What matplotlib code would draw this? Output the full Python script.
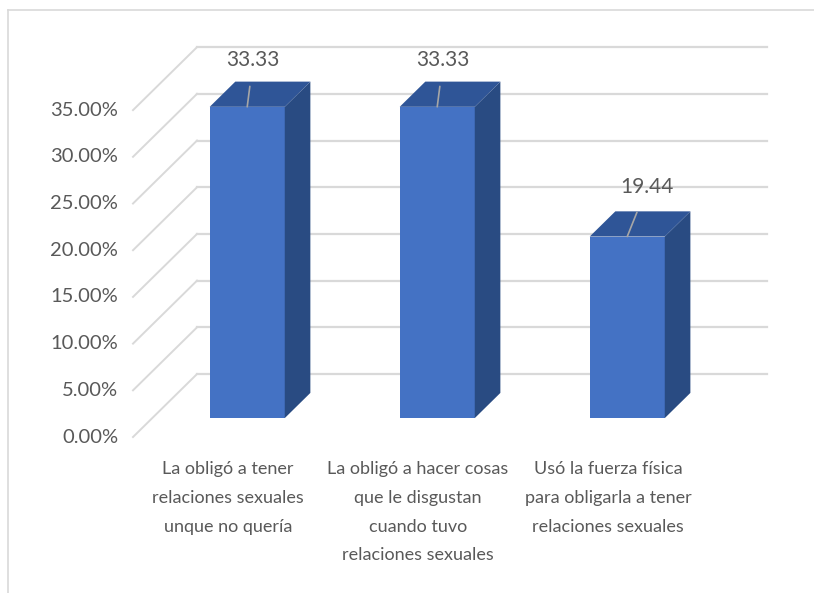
import matplotlib

matplotlib.use("Agg")
import matplotlib.pyplot as plt  # noqa: E402
from matplotlib.lines import Line2D  # noqa: E402
from matplotlib.patches import Polygon  # noqa: E402

plt.rcParams["font.family"] = ["Lato", "DejaVu Sans"]

categories = [
    "La obligó a tener\nrelaciones sexuales\nunque no quería",
    "La obligó a hacer cosas\nque le disgustan\ncuando tuvo\nrelaciones sexuales",
    "Usó la fuerza física\npara obligarla a tener\nrelaciones sexuales",
]
values = [33.33, 33.33, 19.44]
value_labels = ["33.33", "33.33", "19.44"]
y_ticks = [0, 5, 10, 15, 20, 25, 30, 35]
tick_labels = [f"{t:.2f}%" for t in y_ticks]

# fake-3D geometry (category units on x, percent units on y)
DEPTH_X = 0.337
DEPTH_Y = 6.745
BAR_W = 0.395
F_FRONT, F_BACK = 0.3, 0.7

FRONT = "#4472C4"
TOP = "#2F5597"
SIDE = "#294B82"
GRID = "#D9D9D9"
TEXT = "#595959"

fig = plt.figure(figsize=(8.14, 5.93), dpi=100)
ax = fig.add_axes([0, 0, 1, 1])
ax.set_xlim(-1.2, 3.084)
ax.set_ylim(-16.70, 46.79)
ax.axis("off")

# back wall gridlines with the diagonal run to the front edge
x0, x1 = -0.5, len(categories) - 0.5
for t, lab in zip(y_ticks, tick_labels):
    ax.plot([x0, x0 + DEPTH_X], [t, t + DEPTH_Y], color=GRID, lw=1.4, zorder=1)
    ax.plot([x0 + DEPTH_X, x1 + DEPTH_X], [t + DEPTH_Y] * 2, color=GRID, lw=1.6, zorder=1)
    ax.annotate(lab, xy=(x0, t), xytext=(-15, 0), textcoords="offset pixels",
                ha="right", va="center", fontsize=14.5, color=TEXT)

# bars
label_offsets = [(6, 47), (6, 47), (20, 50)]
for i, v in enumerate(values):
    fx = i + F_FRONT * DEPTH_X - BAR_W / 2
    fy = F_FRONT * DEPTH_Y
    ddx = (F_BACK - F_FRONT) * DEPTH_X
    ddy = (F_BACK - F_FRONT) * DEPTH_Y
    front = Polygon([(fx, fy), (fx + BAR_W, fy), (fx + BAR_W, fy + v), (fx, fy + v)],
                    closed=True, facecolor=FRONT, edgecolor="none", zorder=3)
    side = Polygon([(fx + BAR_W, fy), (fx + BAR_W + ddx, fy + ddy),
                    (fx + BAR_W + ddx, fy + ddy + v), (fx + BAR_W, fy + v)],
                   closed=True, facecolor=SIDE, edgecolor="none", zorder=3)
    top = Polygon([(fx, fy + v), (fx + BAR_W, fy + v),
                   (fx + BAR_W + ddx, fy + ddy + v), (fx + ddx, fy + ddy + v)],
                  closed=True, facecolor=TOP, edgecolor="none", zorder=3)
    for p in (front, side, top):
        ax.add_patch(p)
    ax.annotate(value_labels[i], xy=(fx + BAR_W / 2, fy + v),
                xytext=label_offsets[i], textcoords="offset pixels",
                ha="center", va="center", fontsize=15, color=TEXT, zorder=5,
                arrowprops=dict(arrowstyle="-", color="#A6A6A6", lw=1.2,
                                shrinkA=10, shrinkB=0))
    ax.annotate(categories[i], xy=(i, 0), xytext=(0, -24), textcoords="offset pixels",
                ha="center", va="top", fontsize=13, color=TEXT, linespacing=1.98)

# chart area frame (only top/left edges visible in the crop)
fig.add_artist(Line2D([8 / 814, 8 / 814], [0, 1 - 10 / 593], color=GRID, lw=1.2,
                      transform=fig.transFigure))
fig.add_artist(Line2D([8 / 814, 1], [1 - 10 / 593] * 2, color=GRID, lw=1.2,
                      transform=fig.transFigure))

fig.savefig("out.png", dpi=100)
